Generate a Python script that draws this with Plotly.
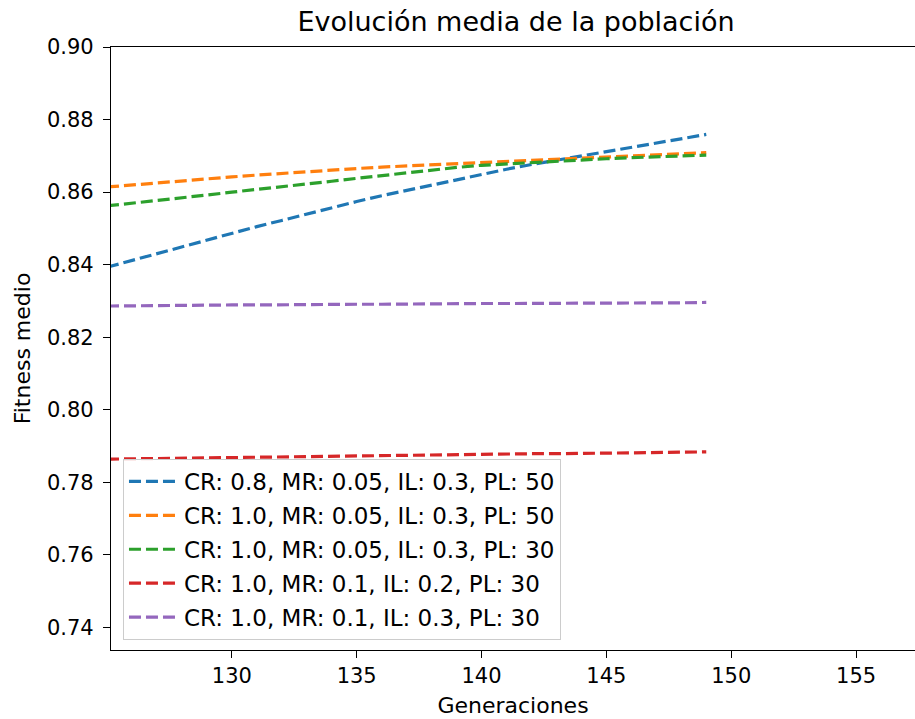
import plotly.graph_objects as go

generaciones = list(range(125, 150))

labels = [
    "CR: 0.8, MR: 0.05, IL: 0.3, PL: 50",
    "CR: 1.0, MR: 0.05, IL: 0.3, PL: 50",
    "CR: 1.0, MR: 0.05, IL: 0.3, PL: 30",
    "CR: 1.0, MR: 0.1, IL: 0.2, PL: 30",
    "CR: 1.0, MR: 0.1, IL: 0.3, PL: 30",
]

serie_blue = [0.8393, 0.8412, 0.8431, 0.8450, 0.8469, 0.8487, 0.8505, 0.8522, 0.8540, 0.8557,
              0.8574, 0.8590, 0.8605, 0.8620, 0.8635, 0.8650, 0.8663, 0.8676, 0.8688, 0.8700,
              0.8712, 0.8724, 0.8736, 0.8748, 0.8759]
serie_orange = [0.8614, 0.8620, 0.8626, 0.8632, 0.8637, 0.8642, 0.8647, 0.8652, 0.8656, 0.8661,
                0.8665, 0.8669, 0.8672, 0.8676, 0.8679, 0.8682, 0.8685, 0.8688, 0.8691, 0.8694,
                0.8697, 0.8700, 0.8703, 0.8706, 0.8709]
serie_green = [0.8562, 0.8569, 0.8577, 0.8584, 0.8592, 0.8600, 0.8607, 0.8614, 0.8622, 0.8630,
               0.8638, 0.8646, 0.8654, 0.8661, 0.8668, 0.8674, 0.8678, 0.8682, 0.8686, 0.8689,
               0.8692, 0.8695, 0.8698, 0.8700, 0.8702]
serie_red = [0.7864, 0.7865, 0.7866, 0.7867, 0.7868, 0.7869, 0.7870, 0.7871, 0.7872, 0.7873,
             0.7873, 0.7874, 0.7875, 0.7876, 0.7876, 0.7877, 0.7878, 0.7879, 0.7879, 0.7880,
             0.7881, 0.7881, 0.7882, 0.7883, 0.7884]
serie_purple = [0.8286, 0.8287, 0.8287, 0.8288, 0.8288, 0.8289, 0.8289, 0.8290, 0.8290, 0.8290,
                0.8291, 0.8291, 0.8292, 0.8292, 0.8292, 0.8293, 0.8293, 0.8293, 0.8294, 0.8294,
                0.8294, 0.8295, 0.8295, 0.8295, 0.8296]

series = [serie_blue, serie_orange, serie_green, serie_red, serie_purple]
colors = ["#1f77b4", "#ff7f0e", "#2ca02c", "#d62728", "#9467bd"]

x_ticks = [130, 135, 140, 145, 150, 155]
y_ticks = [0.74, 0.76, 0.78, 0.80, 0.82, 0.84, 0.86, 0.88, 0.90]

FONT = "DejaVu Sans"

fig = go.Figure()
for i, (lab, ys, col) in enumerate(zip(labels, series, colors)):
    fig.add_trace(go.Scatter(
        x=generaciones, y=ys, mode="lines", name=lab, legendgroup=f"g{i}",
        line=dict(color=col, width=3.2, dash="12px,5px"),
    ))

fig.update_layout(
    width=915, height=719,
    margin=dict(l=111, r=0, t=47, b=69),
    paper_bgcolor="white", plot_bgcolor="white",
    font=dict(family=FONT, size=21, color="#000000"),
    title=dict(text="Evolución media de la población", x=516 / 915, xref="container",
               xanchor="center", y=1 - 22 / 719, yref="container", yanchor="middle",
               font=dict(family=FONT, size=27, color="#000000")),
    showlegend=True,
    legend=dict(x=0.0149, y=0.0166, xanchor="left", yanchor="bottom",
                bgcolor="rgba(255,255,255,0.8)", bordercolor="#cccccc", borderwidth=1,
                font=dict(family=FONT, size=23, color="#000000"),
                tracegroupgap=1, itemwidth=50),
)

fig.update_xaxes(
    range=[125.16, 157.36], tickvals=x_ticks, ticktext=[str(v) for v in x_ticks],
    showgrid=False, zeroline=False, showline=True, linecolor="black", linewidth=1.3,
    mirror=True, ticks="outside", ticklen=7, tickwidth=1.3, tickcolor="black",
    title=dict(text="Generaciones", standoff=10, font=dict(family=FONT, size=22)),
    tickfont=dict(family=FONT, size=21),
)
fig.update_yaxes(
    range=[0.7338, 0.90], tickvals=y_ticks, ticktext=[f"{v:.2f}" for v in y_ticks],
    showgrid=False, zeroline=False, showline=True, linecolor="black", linewidth=1.3,
    mirror=False, ticks="outside", ticklen=7, tickwidth=1.3, tickcolor="black",
    ticklabelstandoff=5,
    title=dict(text="Fitness medio", standoff=10, font=dict(family=FONT, size=22)),
    tickfont=dict(family=FONT, size=21),
)

fig.write_html("out.html")
